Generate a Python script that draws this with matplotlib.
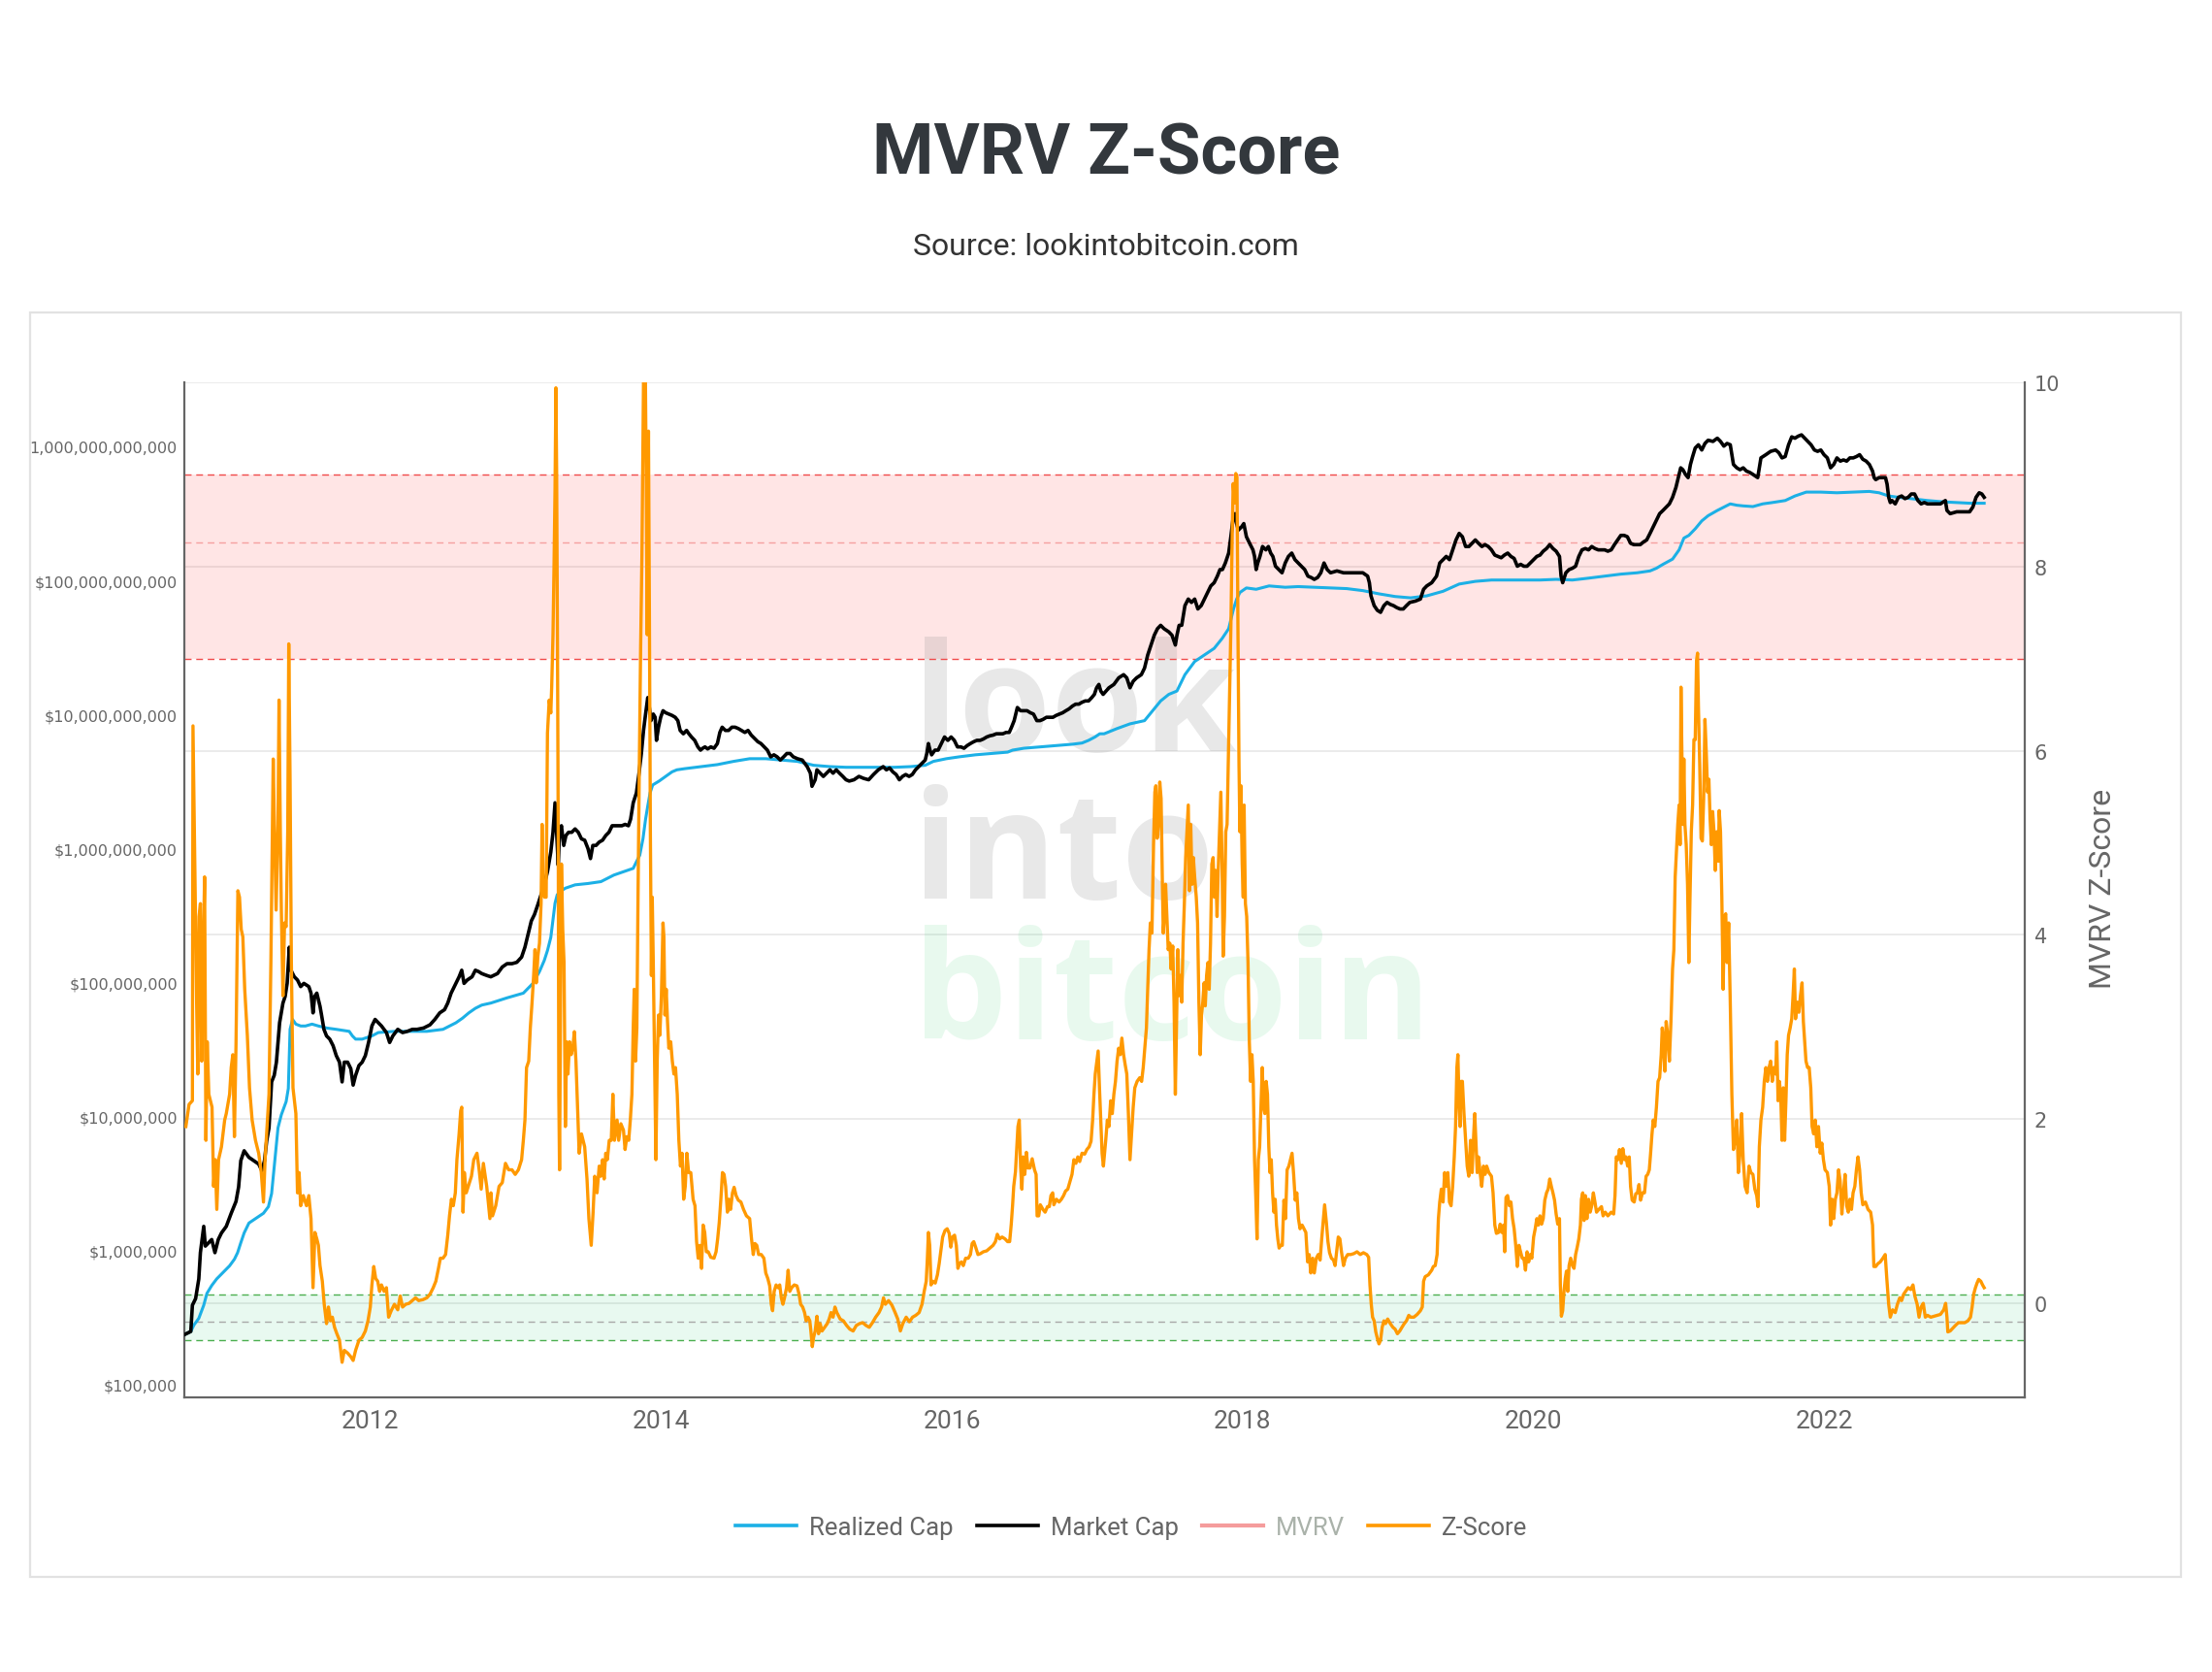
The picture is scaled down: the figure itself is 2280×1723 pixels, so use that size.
#!/usr/bin/env python3
"""MVRV Z-Score chart (lookintobitcoin style) -> out.png"""

import numpy as np
import matplotlib
matplotlib.use("Agg")
import matplotlib.pyplot as plt
from matplotlib.lines import Line2D
from matplotlib.patches import Rectangle
from matplotlib.ticker import FixedLocator, NullLocator
from matplotlib.transforms import blended_transform_factory

# ---- data: (decimal year, value) ----
# Z-score (right axis)
zscore = [
    (2010.729, 1.92), (2010.751, 2.16), (2010.774, 2.20), (2010.778, 6.27), (2010.803, 3.27), (2010.811, 2.49),
    (2010.820, 4.20), (2010.829, 4.34), (2010.838, 2.63), (2010.847, 3.70), (2010.858, 4.63), (2010.867, 1.77),
    (2010.876, 2.84), (2010.887, 2.27), (2010.909, 2.13), (2010.920, 1.27), (2010.931, 1.56), (2010.942, 1.02),
    (2010.954, 1.56), (2010.974, 1.70), (2010.996, 1.99), (2011.007, 2.06), (2011.030, 2.27), (2011.041, 2.56),
    (2011.052, 2.70), (2011.063, 1.81), (2011.074, 2.81), (2011.087, 4.48), (2011.098, 4.41), (2011.110, 4.06),
    (2011.121, 3.98), (2011.134, 3.41), (2011.152, 2.91), (2011.167, 2.34), (2011.185, 1.99), (2011.208, 1.77),
    (2011.230, 1.63), (2011.248, 1.42), (2011.263, 1.10), (2011.274, 1.56), (2011.288, 1.92), (2011.301, 2.27),
    (2011.314, 3.70), (2011.330, 5.91), (2011.339, 5.12), (2011.350, 4.27), (2011.363, 5.20), (2011.370, 6.55),
    (2011.379, 5.12), (2011.386, 4.27), (2011.397, 3.34), (2011.408, 4.13), (2011.419, 4.09), (2011.430, 5.12),
    (2011.437, 7.16), (2011.446, 5.69), (2011.455, 3.70), (2011.466, 2.34), (2011.486, 2.06), (2011.497, 1.20),
    (2011.508, 1.42), (2011.519, 1.06), (2011.537, 1.17), (2011.559, 1.06), (2011.575, 1.17), (2011.590, 0.92),
    (2011.604, 0.17), (2011.617, 0.77), (2011.630, 0.70), (2011.641, 0.63), (2011.652, 0.41), (2011.668, 0.24),
    (2011.681, -0.01), (2011.697, -0.22), (2011.710, -0.04), (2011.724, -0.19), (2011.737, -0.15), (2011.752, -0.26),
    (2011.768, -0.33), (2011.786, -0.40), (2011.804, -0.64), (2011.819, -0.51), (2011.842, -0.54), (2011.864, -0.58),
    (2011.880, -0.62), (2011.897, -0.51), (2011.920, -0.40), (2011.942, -0.37), (2011.964, -0.30), (2011.982, -0.19),
    (2011.998, -0.04), (2012.009, 0.20), (2012.022, 0.40), (2012.035, 0.27), (2012.049, 0.24), (2012.062, 0.13),
    (2012.075, 0.20), (2012.093, 0.13), (2012.109, 0.17), (2012.124, -0.15), (2012.142, -0.08), (2012.164, -0.01),
    (2012.187, -0.07), (2012.204, 0.08), (2012.220, -0.04), (2012.242, -0.01), (2012.265, 0.00), (2012.287, 0.03),
    (2012.309, 0.06), (2012.331, 0.03), (2012.360, 0.04), (2012.387, 0.06), (2012.409, 0.10), (2012.431, 0.17),
    (2012.449, 0.24), (2012.467, 0.38), (2012.480, 0.49), (2012.498, 0.49), (2012.516, 0.53), (2012.531, 0.74),
    (2012.543, 0.95), (2012.556, 1.13), (2012.569, 1.06), (2012.583, 1.20), (2012.594, 1.56), (2012.609, 1.84),
    (2012.620, 2.09), (2012.627, 2.13), (2012.636, 0.99), (2012.645, 1.42), (2012.658, 1.20), (2012.672, 1.27),
    (2012.694, 1.38), (2012.710, 1.56), (2012.732, 1.63), (2012.747, 1.45), (2012.761, 1.24), (2012.776, 1.52),
    (2012.799, 1.27), (2012.821, 0.92),
    (2012.828, 1.20), (2012.839, 0.95), (2012.861, 1.06), (2012.884, 1.27), (2012.906, 1.31), (2012.928, 1.52),
    (2012.950, 1.45), (2012.973, 1.45), (2012.995, 1.40), (2013.017, 1.45), (2013.039, 1.56), (2013.051, 1.77),
    (2013.062, 1.99), (2013.073, 2.56), (2013.088, 2.63), (2013.099, 2.99), (2013.111, 3.27), (2013.122, 3.56),
    (2013.131, 3.84), (2013.140, 3.48), (2013.151, 3.77), (2013.162, 3.91), (2013.173, 4.34), (2013.180, 5.20),
    (2013.188, 4.48), (2013.197, 4.41), (2013.208, 4.41), (2013.217, 6.19), (2013.229, 6.55), (2013.240, 6.41),
    (2013.246, 6.69), (2013.255, 7.26), (2013.262, 7.98), (2013.269, 8.83), (2013.275, 9.94), (2013.280, 9.05),
    (2013.286, 7.12), (2013.291, 5.12), (2013.295, 2.27), (2013.300, 1.45), (2013.306, 2.99), (2013.313, 4.77),
    (2013.322, 4.06), (2013.331, 3.70), (2013.340, 1.92), (2013.349, 2.84), (2013.358, 2.49), (2013.369, 2.84),
    (2013.380, 2.70), (2013.391, 2.77), (2013.402, 2.95), (2013.413, 2.63), (2013.424, 2.13), (2013.435, 1.63),
    (2013.451, 1.84), (2013.473, 1.70), (2013.489, 1.35), (2013.502, 0.92), (2013.518, 0.63), (2013.531, 0.99),
    (2013.542, 1.38), (2013.558, 1.20), (2013.573, 1.49), (2013.584, 1.38), (2013.596, 1.56), (2013.607, 1.35),
    (2013.618, 1.63), (2013.629, 1.56), (2013.642, 1.77), (2013.656, 1.77), (2013.667, 2.27), (2013.678, 1.77),
    (2013.696, 1.99), (2013.707, 1.77), (2013.722, 1.95), (2013.740, 1.88), (2013.751, 1.67), (2013.763, 1.81),
    (2013.776, 1.77), (2013.787, 1.99), (2013.798, 2.27), (2013.807, 2.99), (2013.814, 3.41), (2013.823, 2.63),
    (2013.832, 2.99), (2013.840, 4.41), (2013.849, 5.84), (2013.858, 7.12), (2013.867, 8.12), (2013.874, 9.40),
    (2013.880, 10.40), (2013.889, 10.40), (2013.896, 9.05), (2013.903, 7.26), (2013.907, 8.33), (2013.912, 9.47),
    (2013.918, 7.62), (2013.925, 5.12), (2013.932, 3.56), (2013.938, 4.41), (2013.945, 3.70), (2013.954, 2.63),
    (2013.963, 1.56), (2013.972, 2.63), (2013.981, 3.13), (2013.990, 2.91), (2014.001, 3.34), (2014.012, 4.13),
    (2014.018, 3.98), (2014.025, 3.13), (2014.034, 3.41), (2014.043, 3.06), (2014.052, 2.77), (2014.065, 2.84),
    (2014.076, 2.63), (2014.087, 2.49), (2014.098, 2.56), (2014.110, 2.27), (2014.121, 1.77), (2014.132, 1.49),
    (2014.143, 1.63), (2014.154, 1.13), (2014.165, 1.27), (2014.176, 1.63), (2014.188, 1.42), (2014.203, 1.42),
    (2014.219, 1.13), (2014.232, 1.06), (2014.243, 0.67), (2014.254, 0.49), (2014.265, 0.63), (2014.277, 0.38),
    (2014.288, 0.85), (2014.299, 0.77), (2014.310, 0.56), (2014.323, 0.56), (2014.341, 0.50), (2014.363, 0.49),
    (2014.377, 0.56), (2014.388, 0.70), (2014.399, 0.88), (2014.410, 1.13), (2014.421, 1.42), (2014.432, 1.40),
    (2014.443, 1.27), (2014.455, 0.99), (2014.466, 1.13), (2014.477, 1.02), (2014.490, 1.20), (2014.501, 1.26),
    (2014.515, 1.17), (2014.530, 1.12), (2014.548, 1.10), (2014.566, 1.02), (2014.586, 0.95), (2014.608, 0.92),
    (2014.621, 0.70), (2014.633, 0.53), (2014.644, 0.65), (2014.657, 0.63), (2014.670, 0.53), (2014.688, 0.53),
    (2014.706, 0.49), (2014.719, 0.33), (2014.733, 0.27), (2014.746, 0.19), (2014.757, -0.01), (2014.766, -0.08),
    (2014.777, 0.13), (2014.790, 0.20), (2014.804, 0.17), (2014.815, 0.20), (2014.826, 0.06), (2014.837, -0.01),
    (2014.848, 0.06), (2014.862, 0.17), (2014.873, 0.36), (2014.884, 0.13), (2014.897, 0.17), (2014.915, 0.20),
    (2014.933, 0.19),
    (2014.937, 0.17), (2014.948, 0.10), (2014.959, -0.01), (2014.973, -0.04), (2014.986, -0.10), (2014.997, -0.19),
    (2015.010, -0.15), (2015.022, -0.19), (2015.030, -0.31), (2015.039, -0.47), (2015.048, -0.37), (2015.059, -0.30),
    (2015.071, -0.14), (2015.082, -0.33), (2015.093, -0.22), (2015.106, -0.30), (2015.124, -0.26), (2015.142, -0.22),
    (2015.155, -0.17), (2015.168, -0.10), (2015.182, -0.15), (2015.195, -0.04), (2015.208, -0.10), (2015.231, -0.17),
    (2015.253, -0.19), (2015.275, -0.24), (2015.297, -0.28), (2015.320, -0.30), (2015.342, -0.24), (2015.364, -0.22),
    (2015.386, -0.21), (2015.409, -0.24), (2015.431, -0.26), (2015.453, -0.21), (2015.475, -0.15), (2015.498, -0.10),
    (2015.516, -0.04), (2015.529, 0.06), (2015.542, -0.01), (2015.564, 0.03), (2015.587, -0.02), (2015.609, -0.10),
    (2015.627, -0.17), (2015.645, -0.30), (2015.662, -0.22), (2015.685, -0.15), (2015.707, -0.20), (2015.729, -0.15),
    (2015.751, -0.13), (2015.774, -0.10), (2015.794, -0.01), (2015.809, 0.13), (2015.823, 0.24), (2015.831, 0.49),
    (2015.838, 0.77), (2015.847, 0.63), (2015.856, 0.20), (2015.869, 0.24), (2015.885, 0.22), (2015.900, 0.31),
    (2015.912, 0.43), (2015.923, 0.56), (2015.936, 0.72), (2015.952, 0.79), (2015.967, 0.81), (2015.981, 0.76),
    (2015.992, 0.61), (2016.003, 0.72), (2016.018, 0.74), (2016.030, 0.63), (2016.041, 0.38), (2016.052, 0.43),
    (2016.065, 0.45), (2016.078, 0.41), (2016.094, 0.49), (2016.112, 0.49), (2016.127, 0.53), (2016.139, 0.65),
    (2016.150, 0.67), (2016.163, 0.61), (2016.179, 0.53), (2016.196, 0.54), (2016.216, 0.56), (2016.239, 0.57),
    (2016.261, 0.60), (2016.283, 0.63), (2016.299, 0.67), (2016.312, 0.75), (2016.328, 0.70), (2016.345, 0.72),
    (2016.365, 0.70), (2016.383, 0.67), (2016.397, 0.67), (2016.408, 0.86), (2016.417, 1.06), (2016.425, 1.27),
    (2016.437, 1.43), (2016.446, 1.70), (2016.454, 1.92), (2016.463, 1.99), (2016.472, 1.49), (2016.481, 1.24),
    (2016.490, 1.59), (2016.501, 1.40), (2016.512, 1.64), (2016.523, 1.47), (2016.537, 1.47), (2016.552, 1.57),
    (2016.568, 1.45), (2016.579, 1.40), (2016.586, 0.95), (2016.597, 0.95), (2016.608, 1.07), (2016.626, 1.02),
    (2016.641, 0.99), (2016.657, 1.05), (2016.670, 1.05), (2016.681, 1.17), (2016.693, 1.20), (2016.701, 1.07),
    (2016.719, 1.13), (2016.737, 1.10), (2016.753, 1.13), (2016.768, 1.17), (2016.782, 1.22), (2016.797, 1.24),
    (2016.813, 1.33), (2016.826, 1.40), (2016.839, 1.56), (2016.853, 1.52), (2016.866, 1.59), (2016.879, 1.54),
    (2016.895, 1.63), (2016.913, 1.62), (2016.928, 1.67), (2016.944, 1.70), (2016.957, 1.76), (2016.968, 1.99),
    (2016.977, 2.27), (2016.986, 2.49), (2016.997, 2.63), (2017.006, 2.74), (2017.015, 2.34), (2017.024, 1.99),
    (2017.033, 1.63), (2017.042, 1.49),
    (2017.058, 1.77), (2017.069, 1.99), (2017.080, 1.92), (2017.092, 2.20), (2017.103, 2.06), (2017.114, 2.27),
    (2017.125, 2.41), (2017.136, 2.63), (2017.147, 2.77), (2017.158, 2.70), (2017.169, 2.88), (2017.181, 2.70),
    (2017.192, 2.59), (2017.203, 2.49), (2017.214, 2.06), (2017.225, 1.56), (2017.236, 1.84), (2017.247, 2.13),
    (2017.258, 2.34), (2017.274, 2.41), (2017.292, 2.45), (2017.305, 2.41), (2017.316, 2.56), (2017.327, 2.77),
    (2017.338, 2.99), (2017.347, 3.41), (2017.356, 3.84), (2017.365, 4.13), (2017.376, 4.02), (2017.387, 4.98),
    (2017.396, 5.55), (2017.403, 5.62), (2017.412, 5.05), (2017.421, 5.20), (2017.430, 5.66), (2017.439, 5.48),
    (2017.448, 4.55), (2017.454, 4.02), (2017.461, 4.20), (2017.470, 4.55), (2017.479, 4.20), (2017.488, 3.84),
    (2017.499, 3.91), (2017.508, 3.63), (2017.519, 3.88), (2017.528, 3.27), (2017.537, 2.27), (2017.545, 2.99),
    (2017.554, 3.84), (2017.563, 3.34), (2017.572, 3.56), (2017.581, 3.27), (2017.590, 3.91), (2017.599, 4.34),
    (2017.608, 4.84), (2017.617, 5.12), (2017.626, 5.41), (2017.634, 4.48), (2017.643, 5.20), (2017.652, 4.55),
    (2017.661, 4.84), (2017.670, 4.63), (2017.681, 4.41), (2017.690, 4.13), (2017.699, 3.27), (2017.708, 2.70),
    (2017.717, 3.13), (2017.726, 3.27), (2017.735, 3.48), (2017.743, 3.23), (2017.752, 3.56), (2017.761, 3.70),
    (2017.770, 3.41), (2017.779, 3.91), (2017.788, 4.77), (2017.797, 4.84), (2017.806, 4.41), (2017.815, 4.70),
    (2017.824, 4.20), (2017.832, 4.70), (2017.841, 5.12), (2017.850, 5.55), (2017.859, 4.70), (2017.866, 3.77),
    (2017.875, 4.20), (2017.884, 5.12), (2017.893, 5.20), (2017.901, 5.84), (2017.910, 6.55), (2017.919, 7.33),
    (2017.928, 8.33), (2017.935, 8.90), (2017.944, 8.69), (2017.953, 9.01), (2017.961, 8.97), (2017.968, 7.26),
    (2017.975, 5.84), (2017.981, 5.12), (2017.988, 5.62), (2017.997, 4.77), (2018.004, 4.41), (2018.010, 5.41),
    (2018.019, 4.34), (2018.028, 4.20), (2018.037, 3.70), (2018.046, 2.84), (2018.055, 2.41), (2018.064, 2.70),
    (2018.073, 2.41), (2018.082, 1.56), (2018.091, 1.13), (2018.099, 0.70), (2018.108, 1.56), (2018.117, 1.70),
    (2018.126, 2.13), (2018.135, 2.56), (2018.144, 2.13), (2018.153, 2.06), (2018.162, 2.41), (2018.171, 2.27),
    (2018.180, 1.70), (2018.188, 1.42), (2018.197, 1.56), (2018.206, 1.20), (2018.215, 0.99), (2018.224, 1.13),
    (2018.233, 0.85), (2018.242, 0.70), (2018.251, 0.60), (2018.262, 0.63), (2018.273, 0.63), (2018.284, 1.12),
    (2018.295, 0.92), (2018.306, 1.45), (2018.318, 1.49), (2018.329, 1.56), (2018.340, 1.63), (2018.351, 1.40),
    (2018.362, 1.12), (2018.373, 1.20), (2018.384, 0.92), (2018.395, 0.81), (2018.409, 0.85), (2018.422, 0.81),
    (2018.435, 0.77), (2018.447, 0.45), (2018.458, 0.53), (2018.469, 0.33), (2018.482, 0.49), (2018.493, 0.33),
    (2018.507, 0.49), (2018.520, 0.53), (2018.533, 0.47), (2018.544, 0.70), (2018.556, 0.92), (2018.564, 1.07),
    (2018.576, 0.88), (2018.587, 0.67), (2018.598, 0.55), (2018.611, 0.49), (2018.625, 0.47), (2018.636, 0.41),
    (2018.647, 0.56), (2018.658, 0.72), (2018.669, 0.70), (2018.680, 0.56), (2018.694, 0.41), (2018.707, 0.49),
    (2018.723, 0.53), (2018.743, 0.53), (2018.765, 0.54), (2018.787, 0.56), (2018.809, 0.53), (2018.831, 0.55),
    (2018.854, 0.53), (2018.867, 0.50), (2018.876, 0.20), (2018.885, -0.01), (2018.894, -0.15), (2018.905, -0.19),
    (2018.916, -0.31), (2018.927, -0.38), (2018.938, -0.44), (2018.949, -0.40), (2018.960, -0.26), (2018.972, -0.19),
    (2018.983, -0.22), (2018.998, -0.17), (2019.016, -0.22), (2019.034, -0.26), (2019.049, -0.28), (2019.065, -0.33),
    (2019.081, -0.30), (2019.096, -0.26), (2019.112, -0.22), (2019.127, -0.19), (2019.143, -0.13),
    (2019.156, -0.15), (2019.178, -0.15), (2019.201, -0.12), (2019.223, -0.08), (2019.236, -0.04), (2019.245, 0.24),
    (2019.256, 0.29), (2019.278, 0.31), (2019.301, 0.36), (2019.312, 0.40), (2019.325, 0.41), (2019.338, 0.53),
    (2019.347, 0.92), (2019.356, 1.10), (2019.367, 1.24), (2019.379, 1.10), (2019.390, 1.42), (2019.401, 1.27),
    (2019.412, 1.42), (2019.423, 1.10), (2019.434, 1.06), (2019.445, 1.27), (2019.456, 1.59), (2019.465, 1.92),
    (2019.474, 2.56), (2019.481, 2.70), (2019.490, 2.13), (2019.496, 1.92), (2019.503, 2.41), (2019.512, 2.41),
    (2019.523, 2.06), (2019.534, 1.77), (2019.545, 1.49), (2019.556, 1.38), (2019.568, 1.77), (2019.579, 1.42),
    (2019.590, 1.84), (2019.597, 2.06), (2019.605, 1.77), (2019.614, 1.42), (2019.623, 1.59), (2019.634, 1.42),
    (2019.645, 1.27), (2019.657, 1.49), (2019.668, 1.40), (2019.679, 1.49), (2019.694, 1.42), (2019.712, 1.38),
    (2019.723, 1.20), (2019.735, 0.85), (2019.746, 0.76), (2019.761, 0.77), (2019.772, 0.86), (2019.783, 0.77),
    (2019.795, 0.85), (2019.803, 0.56), (2019.812, 1.15), (2019.823, 1.17), (2019.835, 1.06), (2019.846, 1.10),
    (2019.857, 0.92), (2019.868, 0.81), (2019.879, 0.63), (2019.890, 0.40), (2019.901, 0.63), (2019.912, 0.56),
    (2019.924, 0.49), (2019.935, 0.49), (2019.946, 0.36), (2019.957, 0.56), (2019.968, 0.45), (2019.979, 0.53),
    (2019.990, 0.49), (2020.002, 0.72), (2020.013, 0.81), (2020.024, 0.92), (2020.035, 0.85), (2020.046, 0.95),
    (2020.057, 0.86), (2020.068, 0.92), (2020.079, 1.12), (2020.091, 1.20), (2020.102, 1.24), (2020.113, 1.35),
    (2020.124, 1.27), (2020.135, 1.20), (2020.146, 1.12), (2020.157, 0.97), (2020.168, 0.86), (2020.180, 0.92),
    (2020.186, 0.20), (2020.193, -0.14), (2020.202, -0.08), (2020.211, 0.13), (2020.220, 0.27), (2020.228, 0.35),
    (2020.237, 0.13), (2020.246, 0.41), (2020.257, 0.49), (2020.269, 0.41), (2020.280, 0.38), (2020.291, 0.53),
    (2020.302, 0.61), (2020.313, 0.70), (2020.324, 0.85), (2020.331, 1.13), (2020.340, 1.20), (2020.349, 0.90),
    (2020.358, 1.17), (2020.369, 0.92), (2020.380, 1.13), (2020.391, 0.99), (2020.402, 1.06), (2020.413, 1.20),
    (2020.424, 1.10), (2020.435, 0.99), (2020.451, 1.02), (2020.469, 1.05), (2020.480, 0.95), (2020.495, 0.99),
    (2020.513, 0.95), (2020.536, 0.99), (2020.553, 0.97), (2020.562, 1.17), (2020.571, 1.59), (2020.582, 1.56),
    (2020.593, 1.67), (2020.605, 1.52), (2020.616, 1.68), (2020.627, 1.56), (2020.638, 1.59), (2020.649, 1.49),
    (2020.660, 1.59), (2020.669, 1.27), (2020.680, 1.12), (2020.694, 1.10), (2020.705, 1.19), (2020.716, 1.20),
    (2020.727, 1.29), (2020.738, 1.12), (2020.751, 1.20), (2020.765, 1.20), (2020.776, 1.38), (2020.787, 1.40),
    (2020.798, 1.45), (2020.807, 1.63), (2020.816, 1.83), (2020.825, 1.99), (2020.836, 1.92), (2020.847, 2.13),
    (2020.858, 2.41), (2020.869, 2.45), (2020.880, 2.70), (2020.887, 2.99), (2020.896, 2.84), (2020.905, 2.52),
    (2020.914, 3.06), (2020.925, 2.91), (2020.936, 2.63), (2020.947, 3.06), (2020.958, 3.63), (2020.967, 3.84),
    (2020.976, 4.63), (2020.985, 4.91), (2020.994, 5.20), (2021.003, 5.41), (2021.010, 4.98), (2021.016, 6.69),
    (2021.023, 5.91), (2021.029, 5.20), (2021.036, 5.91), (2021.043, 5.20), (2021.052, 4.98), (2021.061, 4.55),
    (2021.070, 3.70), (2021.078, 4.41), (2021.087, 5.12), (2021.096, 5.41), (2021.105, 6.12), (2021.114, 6.12),
    (2021.123, 6.98), (2021.130, 7.06), (2021.136, 6.48), (2021.145, 5.84), (2021.154, 5.05), (2021.163, 5.02),
    (2021.172, 5.48), (2021.181, 6.34), (2021.190, 5.98), (2021.199, 5.55), (2021.208, 5.69), (2021.216, 5.27),
    (2021.225, 4.98), (2021.234, 5.34), (2021.243, 5.12), (2021.252, 4.70), (2021.261, 5.12),
    (2021.266, 5.12), (2021.273, 4.80), (2021.279, 5.35), (2021.288, 5.12), (2021.297, 4.41), (2021.306, 3.41),
    (2021.315, 4.20), (2021.324, 4.23), (2021.333, 3.70), (2021.344, 4.13), (2021.355, 3.27), (2021.366, 2.27),
    (2021.377, 1.67), (2021.388, 1.77), (2021.400, 1.99), (2021.411, 1.42), (2021.422, 1.63), (2021.433, 2.06),
    (2021.444, 1.56), (2021.457, 1.27), (2021.471, 1.20), (2021.484, 1.49), (2021.497, 1.42), (2021.511, 1.40),
    (2021.524, 1.24), (2021.537, 1.17), (2021.546, 1.05), (2021.555, 1.70), (2021.566, 1.99), (2021.578, 2.13),
    (2021.589, 2.41), (2021.600, 2.56), (2021.611, 2.41), (2021.622, 2.56), (2021.633, 2.63), (2021.644, 2.41),
    (2021.655, 2.56), (2021.667, 2.49), (2021.675, 2.84), (2021.684, 2.20), (2021.693, 2.41), (2021.702, 2.27),
    (2021.711, 1.77), (2021.720, 2.34), (2021.729, 1.77), (2021.738, 2.20), (2021.747, 2.70), (2021.756, 2.91),
    (2021.767, 2.99), (2021.778, 3.09), (2021.787, 3.34), (2021.796, 3.63), (2021.804, 3.09), (2021.816, 3.27),
    (2021.827, 3.16), (2021.838, 3.34), (2021.849, 3.48), (2021.858, 3.06), (2021.867, 2.84), (2021.876, 2.63),
    (2021.887, 2.56), (2021.898, 2.56), (2021.909, 2.34), (2021.918, 1.92), (2021.929, 1.84), (2021.940, 1.99),
    (2021.951, 1.70), (2021.962, 1.92), (2021.974, 1.63), (2021.985, 1.74), (2021.996, 1.56), (2022.007, 1.45),
    (2022.023, 1.42), (2022.036, 1.27), (2022.045, 0.85), (2022.056, 1.13), (2022.067, 0.92), (2022.078, 1.13),
    (2022.089, 1.20), (2022.100, 1.45), (2022.111, 1.33), (2022.123, 0.97), (2022.134, 1.20), (2022.145, 1.40),
    (2022.156, 1.06), (2022.167, 0.99), (2022.178, 1.13), (2022.189, 1.02), (2022.200, 1.20), (2022.212, 1.27),
    (2022.223, 1.45), (2022.234, 1.59), (2022.245, 1.45), (2022.256, 1.20), (2022.267, 1.07), (2022.285, 1.10),
    (2022.303, 1.02), (2022.321, 0.99), (2022.334, 0.85), (2022.343, 0.40), (2022.356, 0.40), (2022.370, 0.43),
    (2022.387, 0.45), (2022.405, 0.49), (2022.421, 0.53), (2022.432, 0.27), (2022.445, -0.01), (2022.456, -0.15),
    (2022.472, -0.07), (2022.490, -0.10), (2022.505, -0.01), (2022.521, 0.06), (2022.534, 0.03), (2022.548, 0.10),
    (2022.561, 0.13), (2022.579, 0.17), (2022.597, 0.15), (2022.612, 0.20), (2022.625, 0.08), (2022.641, -0.01),
    (2022.654, -0.15), (2022.668, -0.04), (2022.683, 0.00), (2022.697, -0.15), (2022.712, -0.13), (2022.735, -0.15),
    (2022.757, -0.14), (2022.779, -0.13), (2022.801, -0.12), (2022.824, -0.07), (2022.837, 0.00), (2022.846, -0.15),
    (2022.852, -0.31), (2022.868, -0.30), (2022.886, -0.27), (2022.904, -0.24), (2022.924, -0.21), (2022.946, -0.21),
    (2022.968, -0.21), (2022.990, -0.19), (2023.008, -0.15), (2023.019, -0.04), (2023.030, 0.10), (2023.042, 0.17),
    (2023.053, 0.22), (2023.064, 0.26), (2023.079, 0.24), (2023.091, 0.20), (2023.102, 0.17),
]

# Market cap, log10 of USD (left axis)
market_cap_log = [
    (2010.718, 5.373), (2010.763, 5.397), (2010.774, 5.593), (2010.796, 5.642), (2010.818, 5.789), (2010.829, 5.985),
    (2010.852, 6.181), (2010.863, 6.034), (2010.885, 6.059), (2010.907, 6.083), (2010.929, 5.985), (2010.952, 6.083),
    (2010.974, 6.132), (2011.007, 6.181), (2011.041, 6.279), (2011.074, 6.367), (2011.092, 6.475), (2011.107, 6.671),
    (2011.130, 6.745), (2011.163, 6.696), (2011.196, 6.671), (2011.230, 6.646), (2011.252, 6.597), (2011.270, 6.671),
    (2011.285, 6.818), (2011.301, 6.916), (2011.319, 7.259), (2011.337, 7.308), (2011.352, 7.406), (2011.374, 7.700),
    (2011.397, 7.847), (2011.412, 7.896), (2011.426, 7.994), (2011.441, 8.264), (2011.452, 8.092), (2011.475, 8.043),
    (2011.497, 8.019), (2011.519, 7.970), (2011.541, 7.994), (2011.575, 7.970), (2011.590, 7.921), (2011.604, 7.774),
    (2011.615, 7.896), (2011.630, 7.921), (2011.652, 7.823), (2011.664, 7.749), (2011.679, 7.651), (2011.697, 7.602),
    (2011.719, 7.578), (2011.742, 7.529), (2011.764, 7.455), (2011.786, 7.406), (2011.804, 7.259), (2011.819, 7.406),
    (2011.842, 7.406), (2011.864, 7.357), (2011.880, 7.235), (2011.897, 7.308), (2011.920, 7.381), (2011.942, 7.406),
    (2011.964, 7.455), (2011.986, 7.553), (2012.009, 7.676), (2012.031, 7.725), (2012.053, 7.700), (2012.075, 7.676),
    (2012.109, 7.627), (2012.131, 7.553), (2012.153, 7.602), (2012.187, 7.651), (2012.220, 7.627), (2012.253, 7.636),
    (2012.287, 7.651), (2012.320, 7.651), (2012.365, 7.661), (2012.409, 7.685), (2012.442, 7.725), (2012.476, 7.774),
    (2012.509, 7.798), (2012.531, 7.847), (2012.554, 7.921), (2012.587, 7.994), (2012.609, 8.043), (2012.627, 8.092),
    (2012.643, 7.994), (2012.665, 8.019), (2012.698, 8.043), (2012.721, 8.092), (2012.743, 8.082), (2012.765, 8.067),
    (2012.799, 8.053), (2012.827, 8.043), (2012.873, 8.067), (2012.906, 8.116), (2012.939, 8.141), (2012.973, 8.141),
    (2013.006, 8.151), (2013.039, 8.190), (2013.062, 8.264), (2013.084, 8.362), (2013.106, 8.460), (2013.128, 8.509),
    (2013.151, 8.582), (2013.173, 8.656), (2013.195, 8.729), (2013.217, 8.827), (2013.240, 8.974), (2013.255, 9.121),
    (2013.269, 9.341), (2013.280, 9.121), (2013.291, 8.876), (2013.300, 9.121), (2013.313, 9.170), (2013.329, 9.023),
    (2013.344, 9.097), (2013.362, 9.121), (2013.384, 9.121), (2013.407, 9.146), (2013.429, 9.121), (2013.451, 9.072),
    (2013.473, 9.062), (2013.496, 8.999), (2013.513, 8.925), (2013.529, 9.023), (2013.551, 9.023), (2013.573, 9.048),
    (2013.596, 9.062), (2013.618, 9.097), (2013.640, 9.121), (2013.662, 9.170), (2013.685, 9.170), (2013.707, 9.170),
    (2013.729, 9.170), (2013.751, 9.180), (2013.774, 9.170), (2013.789, 9.219), (2013.807, 9.341), (2013.829, 9.415),
    (2013.847, 9.562), (2013.863, 9.709), (2013.878, 9.881), (2013.892, 10.003), (2013.907, 10.126), (2013.918, 10.052),
    (2013.929, 9.954), (2013.945, 10.003), (2013.958, 9.979), (2013.967, 9.807), (2013.981, 9.905), (2013.996, 9.979),
    (2014.012, 10.028), (2014.030, 10.013), (2014.052, 10.003), (2014.074, 9.993), (2014.096, 9.979), (2014.114, 9.954),
    (2014.130, 9.881), (2014.152, 9.856), (2014.174, 9.881), (2014.190, 9.856), (2014.208, 9.832), (2014.230, 9.807),
    (2014.252, 9.758), (2014.270, 9.734), (2014.285, 9.748), (2014.301, 9.758), (2014.319, 9.743), (2014.341, 9.758),
    (2014.363, 9.748), (2014.386, 9.783), (2014.403, 9.866), (2014.419, 9.905), (2014.441, 9.881), (2014.463, 9.881),
    (2014.486, 9.905), (2014.508, 9.905), (2014.530, 9.895), (2014.552, 9.881), (2014.575, 9.866), (2014.597, 9.881),
    (2014.619, 9.846), (2014.641, 9.822), (2014.664, 9.797), (2014.686, 9.783), (2014.708, 9.758), (2014.730, 9.734),
    (2014.753, 9.684), (2014.775, 9.699), (2014.797, 9.684), (2014.819, 9.660), (2014.842, 9.684), (2014.864, 9.709),
    (2014.886, 9.709), (2014.908, 9.684), (2014.937, 9.670), (2014.970, 9.660), (2015.004, 9.611), (2015.026, 9.562),
    (2015.037, 9.464), (2015.059, 9.513), (2015.071, 9.587), (2015.093, 9.562), (2015.115, 9.538), (2015.137, 9.562),
    (2015.160, 9.587), (2015.182, 9.562), (2015.204, 9.587), (2015.226, 9.562), (2015.249, 9.538), (2015.271, 9.513),
    (2015.293, 9.503), (2015.326, 9.513), (2015.360, 9.538), (2015.393, 9.523), (2015.427, 9.513), (2015.460, 9.552),
    (2015.493, 9.587), (2015.527, 9.611), (2015.549, 9.587), (2015.571, 9.601), (2015.593, 9.572), (2015.616, 9.552),
    (2015.638, 9.513), (2015.660, 9.538), (2015.682, 9.552), (2015.705, 9.538), (2015.727, 9.552), (2015.749, 9.587),
    (2015.771, 9.611), (2015.794, 9.635), (2015.816, 9.660), (2015.827, 9.709), (2015.838, 9.783), (2015.849, 9.734),
    (2015.860, 9.699), (2015.883, 9.734), (2015.905, 9.734), (2015.927, 9.783), (2015.949, 9.832), (2015.972, 9.807),
    (2015.994, 9.832), (2016.016, 9.807), (2016.038, 9.758), (2016.061, 9.758), (2016.083, 9.748), (2016.105, 9.768),
    (2016.127, 9.783), (2016.150, 9.797), (2016.172, 9.807), (2016.194, 9.807), (2016.216, 9.817), (2016.239, 9.832),
    (2016.261, 9.841), (2016.283, 9.846), (2016.305, 9.856), (2016.328, 9.856), (2016.350, 9.856), (2016.372, 9.866),
    (2016.394, 9.866), (2016.410, 9.905), (2016.428, 9.954), (2016.450, 10.052), (2016.472, 10.028), (2016.495, 10.028),
    (2016.517, 10.028), (2016.539, 10.013), (2016.561, 10.003), (2016.584, 9.954), (2016.606, 9.954), (2016.628, 9.964),
    (2016.650, 9.979), (2016.673, 9.979), (2016.695, 9.979), (2016.717, 9.993), (2016.739, 10.003), (2016.762, 10.013),
    (2016.784, 10.028), (2016.806, 10.042), (2016.828, 10.062), (2016.851, 10.077), (2016.873, 10.077), (2016.895, 10.091),
    (2016.917, 10.101), (2016.940, 10.101), (2016.962, 10.126), (2016.980, 10.150), (2016.995, 10.199), (2017.011, 10.224),
    (2017.024, 10.175), (2017.040, 10.150), (2017.080, 10.199), (2017.114, 10.224), (2017.147, 10.273), (2017.181, 10.297),
    (2017.203, 10.273), (2017.225, 10.199), (2017.247, 10.248), (2017.270, 10.273), (2017.303, 10.297), (2017.325, 10.346),
    (2017.347, 10.444), (2017.370, 10.518), (2017.392, 10.591), (2017.414, 10.640), (2017.436, 10.665), (2017.459, 10.640),
    (2017.492, 10.616), (2017.514, 10.591), (2017.537, 10.518), (2017.548, 10.591), (2017.563, 10.665), (2017.581, 10.665),
    (2017.603, 10.812), (2017.626, 10.861), (2017.648, 10.836), (2017.670, 10.861), (2017.692, 10.787), (2017.715, 10.812),
    (2017.737, 10.861), (2017.759, 10.910), (2017.781, 10.959), (2017.804, 10.983), (2017.826, 11.032), (2017.844, 11.081),
    (2017.861, 11.081), (2017.881, 11.130), (2017.904, 11.204), (2017.919, 11.326), (2017.933, 11.449), (2017.948, 11.498),
    (2017.959, 11.424), (2017.970, 11.375), (2017.993, 11.400), (2018.008, 11.424), (2018.026, 11.326), (2018.048, 11.277),
    (2018.071, 11.228), (2018.082, 11.179), (2018.093, 11.081), (2018.104, 11.130), (2018.119, 11.179), (2018.137, 11.253),
    (2018.160, 11.228), (2018.177, 11.253), (2018.193, 11.204), (2018.208, 11.179), (2018.226, 11.106), (2018.249, 11.081),
    (2018.271, 11.057), (2018.293, 11.130), (2018.315, 11.179), (2018.338, 11.204), (2018.360, 11.155), (2018.382, 11.130),
    (2018.404, 11.106), (2018.427, 11.081), (2018.449, 11.032), (2018.471, 11.022), (2018.493, 11.008), (2018.516, 11.022),
    (2018.538, 11.057), (2018.560, 11.130), (2018.582, 11.081), (2018.605, 11.057), (2018.649, 11.071), (2018.694, 11.057),
    (2018.738, 11.057), (2018.783, 11.057), (2018.827, 11.057), (2018.860, 11.032), (2018.872, 10.983), (2018.883, 10.885),
    (2018.905, 10.812), (2018.927, 10.777), (2018.949, 10.762), (2018.972, 10.812), (2018.994, 10.836), (2019.016, 10.821),
    (2019.038, 10.812), (2019.061, 10.797), (2019.083, 10.787), (2019.105, 10.787), (2019.127, 10.812), (2019.150, 10.836),
    (2019.189, 10.846), (2019.223, 10.861), (2019.245, 10.934), (2019.267, 10.959), (2019.301, 10.983), (2019.334, 11.032),
    (2019.356, 11.130), (2019.379, 11.155), (2019.401, 11.179), (2019.423, 11.155), (2019.445, 11.228), (2019.468, 11.302),
    (2019.490, 11.351), (2019.512, 11.326), (2019.534, 11.253), (2019.557, 11.253), (2019.579, 11.277), (2019.601, 11.302),
    (2019.623, 11.277), (2019.646, 11.253), (2019.668, 11.267), (2019.690, 11.253), (2019.712, 11.228), (2019.735, 11.189),
    (2019.757, 11.179), (2019.779, 11.169), (2019.801, 11.189), (2019.824, 11.204), (2019.846, 11.179), (2019.868, 11.164),
    (2019.890, 11.106), (2019.913, 11.120), (2019.935, 11.106), (2019.957, 11.106), (2019.979, 11.130), (2020.002, 11.155),
    (2020.024, 11.179), (2020.046, 11.189), (2020.068, 11.218), (2020.091, 11.238), (2020.113, 11.267), (2020.135, 11.238),
    (2020.157, 11.218), (2020.180, 11.179), (2020.191, 11.032), (2020.202, 10.983), (2020.224, 11.057), (2020.246, 11.081),
    (2020.269, 11.091), (2020.291, 11.106), (2020.313, 11.179), (2020.335, 11.228), (2020.358, 11.238), (2020.380, 11.228),
    (2020.402, 11.253), (2020.424, 11.238), (2020.447, 11.228), (2020.469, 11.228), (2020.491, 11.228), (2020.513, 11.218),
    (2020.536, 11.228), (2020.558, 11.267), (2020.580, 11.302), (2020.602, 11.336), (2020.625, 11.336), (2020.647, 11.326),
    (2020.669, 11.277), (2020.691, 11.267), (2020.714, 11.267), (2020.736, 11.267), (2020.758, 11.287), (2020.780, 11.302),
    (2020.803, 11.351), (2020.825, 11.400), (2020.847, 11.449), (2020.869, 11.498), (2020.892, 11.522), (2020.914, 11.547),
    (2020.936, 11.571), (2020.958, 11.620), (2020.981, 11.693), (2021.003, 11.791), (2021.014, 11.840), (2021.029, 11.826),
    (2021.047, 11.791), (2021.065, 11.767), (2021.081, 11.865), (2021.096, 11.924), (2021.114, 11.988), (2021.136, 12.012),
    (2021.159, 11.973), (2021.181, 12.022), (2021.203, 12.046), (2021.236, 12.037), (2021.266, 12.061), (2021.288, 12.037),
    (2021.311, 12.002), (2021.333, 12.022), (2021.355, 12.012), (2021.377, 11.865), (2021.400, 11.840), (2021.422, 11.826),
    (2021.444, 11.840), (2021.466, 11.816), (2021.489, 11.806), (2021.511, 11.791), (2021.544, 11.767), (2021.566, 11.914),
    (2021.600, 11.938), (2021.633, 11.963), (2021.667, 11.973), (2021.689, 11.953), (2021.711, 11.914), (2021.733, 11.924),
    (2021.756, 12.012), (2021.778, 12.071), (2021.800, 12.061), (2021.822, 12.076), (2021.845, 12.086), (2021.867, 12.061),
    (2021.889, 12.037), (2021.911, 12.012), (2021.934, 11.973), (2021.956, 11.963), (2021.978, 11.973), (2022.000, 11.938),
    (2022.023, 11.914), (2022.045, 11.840), (2022.067, 11.865), (2022.089, 11.914), (2022.112, 11.890), (2022.134, 11.899),
    (2022.156, 11.890), (2022.178, 11.914), (2022.201, 11.914), (2022.223, 11.924), (2022.245, 11.938), (2022.267, 11.904),
    (2022.290, 11.890), (2022.312, 11.865), (2022.334, 11.816), (2022.345, 11.767), (2022.356, 11.752), (2022.379, 11.767),
    (2022.423, 11.767), (2022.434, 11.718), (2022.445, 11.620), (2022.456, 11.581), (2022.468, 11.596), (2022.490, 11.571),
    (2022.512, 11.620), (2022.534, 11.630), (2022.557, 11.610), (2022.579, 11.620), (2022.601, 11.645), (2022.623, 11.645),
    (2022.646, 11.596), (2022.668, 11.571), (2022.690, 11.581), (2022.712, 11.571), (2022.757, 11.571), (2022.801, 11.571),
    (2022.835, 11.596), (2022.846, 11.522), (2022.868, 11.498), (2022.913, 11.512), (2022.957, 11.512), (2023.002, 11.512),
    (2023.024, 11.547), (2023.046, 11.620), (2023.068, 11.654), (2023.086, 11.645), (2023.102, 11.620),
]

# Realized cap, log10 of USD (left axis)
realized_cap_log = [
    (2010.718, 5.373), (2010.763, 5.397), (2010.785, 5.446), (2010.818, 5.495), (2010.852, 5.593), (2010.874, 5.681),
    (2010.907, 5.740), (2010.941, 5.789), (2010.985, 5.838), (2011.030, 5.887), (2011.063, 5.936), (2011.085, 5.985),
    (2011.107, 6.059), (2011.130, 6.132), (2011.163, 6.206), (2011.196, 6.230), (2011.230, 6.255), (2011.263, 6.279),
    (2011.297, 6.328), (2011.319, 6.426), (2011.341, 6.671), (2011.363, 6.916), (2011.386, 7.014), (2011.419, 7.112),
    (2011.434, 7.210), (2011.446, 7.651), (2011.463, 7.725), (2011.486, 7.690), (2011.519, 7.676), (2011.552, 7.676),
    (2011.597, 7.690), (2011.641, 7.676), (2011.697, 7.661), (2011.764, 7.651), (2011.853, 7.636), (2011.875, 7.602),
    (2011.897, 7.578), (2011.942, 7.578), (2012.009, 7.602), (2012.053, 7.627), (2012.164, 7.636), (2012.276, 7.636),
    (2012.387, 7.636), (2012.498, 7.651), (2012.543, 7.676), (2012.587, 7.700), (2012.632, 7.734), (2012.676, 7.774),
    (2012.721, 7.808), (2012.765, 7.832), (2012.827, 7.847), (2012.939, 7.886), (2013.051, 7.921), (2013.117, 7.994),
    (2013.162, 8.082), (2013.195, 8.165), (2013.217, 8.239), (2013.240, 8.337), (2013.257, 8.484), (2013.269, 8.592),
    (2013.284, 8.655), (2013.306, 8.680), (2013.340, 8.704), (2013.407, 8.729), (2013.496, 8.739), (2013.585, 8.753),
    (2013.674, 8.802), (2013.740, 8.827), (2013.807, 8.852), (2013.829, 8.901), (2013.852, 8.950), (2013.874, 9.072),
    (2013.892, 9.219), (2013.907, 9.317), (2013.923, 9.415), (2013.941, 9.474), (2013.985, 9.503), (2014.030, 9.538),
    (2014.074, 9.572), (2014.107, 9.587), (2014.163, 9.596), (2014.274, 9.611), (2014.386, 9.626), (2014.497, 9.650),
    (2014.608, 9.670), (2014.719, 9.670), (2014.831, 9.660), (2014.937, 9.650), (2015.048, 9.621), (2015.160, 9.611),
    (2015.271, 9.606), (2015.382, 9.606), (2015.493, 9.606), (2015.605, 9.606), (2015.716, 9.611), (2015.816, 9.621),
    (2015.872, 9.650), (2015.961, 9.670), (2016.050, 9.684), (2016.161, 9.699), (2016.272, 9.709), (2016.383, 9.719),
    (2016.417, 9.734), (2016.495, 9.748), (2016.606, 9.758), (2016.717, 9.768), (2016.828, 9.778), (2016.895, 9.787),
    (2016.940, 9.807), (2016.984, 9.832), (2017.017, 9.856), (2017.047, 9.856), (2017.136, 9.895), (2017.225, 9.930),
    (2017.325, 9.954), (2017.381, 10.028), (2017.436, 10.101), (2017.492, 10.150), (2017.548, 10.175), (2017.603, 10.297),
    (2017.670, 10.395), (2017.737, 10.444), (2017.804, 10.493), (2017.859, 10.567), (2017.904, 10.640), (2017.937, 10.787),
    (2017.959, 10.861), (2017.981, 10.910), (2018.026, 10.944), (2018.093, 10.934), (2018.182, 10.959), (2018.293, 10.949),
    (2018.382, 10.954), (2018.493, 10.949), (2018.605, 10.944), (2018.716, 10.939), (2018.827, 10.924), (2018.938, 10.900),
    (2019.049, 10.880), (2019.156, 10.870), (2019.267, 10.885), (2019.379, 10.919), (2019.490, 10.973), (2019.601, 10.993),
    (2019.712, 11.003), (2019.824, 11.003), (2019.935, 11.003), (2020.046, 11.003), (2020.157, 11.008), (2020.269, 11.003),
    (2020.380, 11.017), (2020.491, 11.032), (2020.602, 11.047), (2020.714, 11.057), (2020.803, 11.071), (2020.847, 11.091),
    (2020.892, 11.120), (2020.958, 11.159), (2021.003, 11.228), (2021.036, 11.316), (2021.070, 11.336), (2021.114, 11.385),
    (2021.159, 11.444), (2021.203, 11.483), (2021.266, 11.522), (2021.311, 11.547), (2021.355, 11.571), (2021.400, 11.561),
    (2021.444, 11.556), (2021.511, 11.551), (2021.578, 11.571), (2021.644, 11.581), (2021.733, 11.596), (2021.800, 11.630),
    (2021.878, 11.659), (2021.978, 11.659), (2022.089, 11.654), (2022.201, 11.659), (2022.312, 11.664), (2022.379, 11.654),
    (2022.445, 11.630), (2022.512, 11.620), (2022.601, 11.610), (2022.712, 11.596), (2022.824, 11.586), (2022.913, 11.581),
    (2023.002, 11.576), (2023.102, 11.576),
]

cap_ticks = [1e5, 1e6, 1e7, 1e8, 1e9, 1e10, 1e11, 1e12]
cap_labels = ["$100,000", "$1,000,000", "$10,000,000", "$100,000,000", "$1,000,000,000",
              "$10,000,000,000", "$100,000,000,000", "1,000,000,000,000"]
z_ticks = [0, 2, 4, 6, 8, 10]
year_ticks = [2012, 2014, 2016, 2018, 2020, 2022]

# shaded zones in z-score units
high_zone = (7.0, 9.0)
high_zone_mid = 8.26
low_zone = (-0.4, 0.1)
low_zone_mid = -0.2

BLUE = "#1cb0e6"
ORANGE = "#ff9900"
GREY_TXT = "#666666"


def main():
    z_x, z_y = zip(*zscore)
    m_x, m_y = zip(*market_cap_log)
    r_x, r_y = zip(*realized_cap_log)

    fig = plt.figure(figsize=(22.8, 17.24), dpi=100)
    fig.patch.set_facecolor("white")

    # card border
    fig.patches.append(Rectangle((31 / 2280, 1 - 1626 / 1724), 2217 / 2280, 1303 / 1724,
                                 transform=fig.transFigure, fill=False,
                                 edgecolor="#e2e2e2", lw=1.6, zorder=0))

    fig.text(0.5, 0.8956, "MVRV Z-Score", ha="center", va="baseline", fontsize=52,
             fontweight="bold", family="Roboto", color="#33383d")
    fig.text(0.5, 0.8474, "Source: lookintobitcoin.com", ha="center", va="baseline",
             fontsize=23, family="Roboto", color="#333333")

    ax = fig.add_axes([0.0833, 0.1642, 0.8321, 0.6067])
    ax2 = ax.twinx()

    ax.set_xlim(2010.718, 2023.382)
    ax.set_yscale("log")
    ax.set_ylim(10 ** 4.906, 10 ** 12.478)
    ax2.set_ylim(-1.02, 10.0)

    blend = blended_transform_factory(ax.transAxes, ax2.transData)

    # grid of the right axis, drawn behind everything
    for v in z_ticks:
        ax.plot([0, 1], [v, v], transform=blend, color="#e6e6e6", lw=1.1, zorder=0.3)

    # zones
    ax.add_patch(Rectangle((0, high_zone[0]), 1, high_zone[1] - high_zone[0], transform=blend,
                           facecolor=(1, 0, 0, 0.10), edgecolor="none", zorder=0.4))
    ax.add_patch(Rectangle((0, low_zone[0]), 1, low_zone[1] - low_zone[0], transform=blend,
                           facecolor=(0.0, 0.75, 0.35, 0.09), edgecolor="none", zorder=0.4))
    dash = (0, (5, 3.5))
    for v in high_zone:
        ax.plot([0, 1], [v, v], transform=blend, color="#f04a4a", lw=1.0, ls=dash, zorder=0.6)
    ax.plot([0, 1], [high_zone_mid, high_zone_mid], transform=blend, color="#f5a0a0",
            lw=1.0, ls=dash, zorder=0.6)
    for v in low_zone:
        ax.plot([0, 1], [v, v], transform=blend, color="#4caf50", lw=1.0, ls=dash, zorder=0.6)
    ax.plot([0, 1], [low_zone_mid, low_zone_mid], transform=blend, color="#a8a8a8",
            lw=1.0, ls=dash, zorder=0.6)

    # watermark
    wm = dict(transform=fig.transFigure, family="Open Sans", fontweight="bold",
              fontsize=111, ha="left", va="baseline", zorder=0.5)
    ax.text(941 / 2280, 0.5510, "look", color=(0.55, 0.55, 0.55, 0.20), **wm)
    ax.text(941 / 2280, 0.4629, "into", color=(0.55, 0.55, 0.55, 0.20), **wm)
    ax.text(941 / 2280, 0.3788, "bitcoin", color=(0.0, 0.78, 0.30, 0.09), **wm)

    ax.plot(r_x, 10 ** np.array(r_y), color=BLUE, lw=2.2, zorder=3, solid_joinstyle="round")
    ax.plot(m_x, 10 ** np.array(m_y), color="black", lw=2.6, zorder=4, solid_joinstyle="round")
    ax2.plot(z_x, z_y, color=ORANGE, lw=2.4, zorder=3, solid_joinstyle="round")

    # axes styling
    for a in (ax, ax2):
        a.spines["top"].set_visible(False)
    ax.spines["right"].set_visible(False)
    ax2.spines["left"].set_visible(False)
    ax2.spines["bottom"].set_visible(False)
    for s in ("left", "bottom"):
        ax.spines[s].set_color(GREY_TXT)
        ax.spines[s].set_linewidth(1.6)
    ax2.spines["right"].set_color(GREY_TXT)
    ax2.spines["right"].set_linewidth(1.6)

    ax.yaxis.set_major_locator(FixedLocator(cap_ticks))
    ax.yaxis.set_minor_locator(NullLocator())
    ax.set_yticklabels(cap_labels)
    ax.tick_params(axis="y", length=0, pad=5, labelsize=11.5, labelcolor=GREY_TXT)

    ax.set_xticks(year_ticks)
    ax.set_xticklabels([str(y) for y in year_ticks], family="Roboto")
    ax.tick_params(axis="x", length=0, pad=9, labelsize=19, labelcolor=GREY_TXT)

    ax2.set_yticks(z_ticks)
    ax2.set_yticklabels([str(v) for v in z_ticks])
    ax2.tick_params(axis="y", length=0, pad=7, labelsize=15, labelcolor=GREY_TXT)

    fig.text(2167 / 2280, 0.4687, "MVRV Z-Score", rotation=90, ha="center", va="center",
             fontsize=23, family="Roboto", color=GREY_TXT)

    handles = [
        Line2D([], [], color=BLUE, lw=2.6),
        Line2D([], [], color="black", lw=2.6),
        Line2D([], [], color="#f59c9c", lw=3.0),
        Line2D([], [], color=ORANGE, lw=2.6),
    ]
    leg = fig.legend(handles, ["Realized Cap", "Market Cap", "MVRV", "Z-Score"],
                     loc="center", bbox_to_anchor=(0.5115, 0.0866), ncol=4, frameon=False,
                     prop={"family": "Roboto", "size": 18.5}, handlelength=2.45,
                     handletextpad=0.5, columnspacing=0.95)
    for t, c in zip(leg.get_texts(), [GREY_TXT, GREY_TXT, "#aab2aa", GREY_TXT]):
        t.set_color(c)

    fig.savefig("out.png", dpi=100, facecolor="white")
    plt.close(fig)


if __name__ == "__main__":
    main()
